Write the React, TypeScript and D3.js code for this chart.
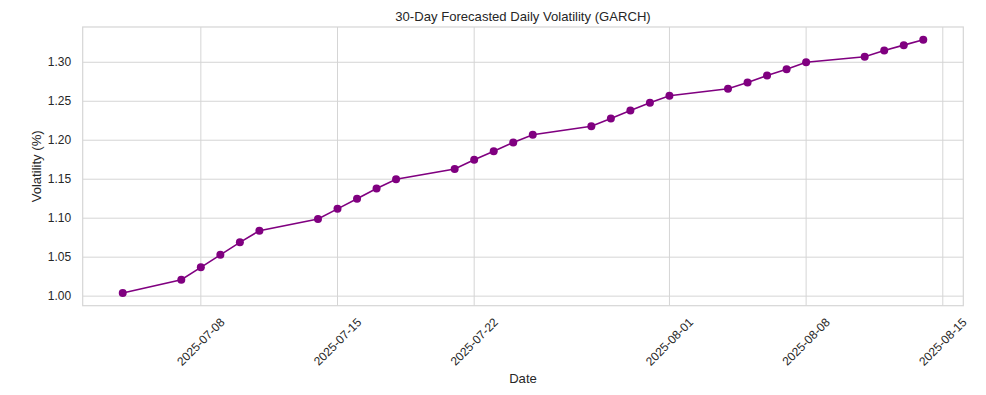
import React, { useEffect, useRef } from "react";
import * as d3 from "d3";

// forecast dates (business days) and GARCH daily volatility values
const dates = [
  "2025-07-04",
  "2025-07-07", "2025-07-08", "2025-07-09", "2025-07-10", "2025-07-11",
  "2025-07-14", "2025-07-15", "2025-07-16", "2025-07-17", "2025-07-18",
  "2025-07-21", "2025-07-22", "2025-07-23", "2025-07-24", "2025-07-25",
  "2025-07-28", "2025-07-29", "2025-07-30", "2025-07-31", "2025-08-01",
  "2025-08-04", "2025-08-05", "2025-08-06", "2025-08-07", "2025-08-08",
  "2025-08-11", "2025-08-12", "2025-08-13", "2025-08-14",
];
const volatility = [
  1.004,
  1.021, 1.037, 1.053, 1.069, 1.084,
  1.099, 1.112, 1.125, 1.138, 1.150,
  1.163, 1.175, 1.186, 1.197, 1.207,
  1.218, 1.228, 1.238, 1.248, 1.257,
  1.266, 1.274, 1.283, 1.291, 1.300,
  1.307, 1.315, 1.322, 1.329,
];
const xTickLabels = ["2025-07-08", "2025-07-15", "2025-07-22", "2025-08-01", "2025-08-08", "2025-08-15"];
const yTickValues = [1.0, 1.05, 1.1, 1.15, 1.2, 1.25, 1.3];

const W = 986;
const H = 395;

function VolChart() {
  const ref = useRef<SVGSVGElement | null>(null);

  useEffect(() => {
    const svg = d3.select(ref.current);
    svg.selectAll("*").remove();

    const margin = { top: 27, right: 22.7, bottom: 89.3, left: 82.7 };
    const width = W - margin.left - margin.right;
    const height = H - margin.top - margin.bottom;
    const font = "'Liberation Sans', Arial, sans-serif";
    const textColor = "#262626";
    const gridColor = "#d5d5d5";
    const tickSize = 12;
    const labelSize = 13.1;

    const parse = d3.utcParse("%Y-%m-%d");
    const data = dates.map((d, i) => ({ date: parse(d) as Date, v: volatility[i] }));

    // matplotlib-like 5% padding on both axes
    const [x0, x1] = d3.extent(data, d => d.date.getTime()) as [number, number];
    const xPad = (x1 - x0) * 0.05;
    const x = d3.scaleUtc()
      .domain([new Date(x0 - xPad), new Date(x1 + xPad)])
      .range([0, width]);

    const [y0, y1] = d3.extent(data, d => d.v) as [number, number];
    const yPad = (y1 - y0) * 0.05;
    const y = d3.scaleLinear()
      .domain([y0 - yPad, y1 + yPad])
      .range([height, 0]);

    const g = svg.append("g").attr("transform", `translate(${margin.left},${margin.top})`);

    // grid
    const xTicks = xTickLabels.map(s => parse(s) as Date);
    g.append("g")
      .selectAll("line")
      .data(xTicks)
      .enter()
      .append("line")
      .attr("x1", d => x(d))
      .attr("x2", d => x(d))
      .attr("y1", 0)
      .attr("y2", height)
      .attr("stroke", gridColor)
      .attr("stroke-width", 1);

    g.append("g")
      .selectAll("line")
      .data(yTickValues)
      .enter()
      .append("line")
      .attr("x1", 0)
      .attr("x2", width)
      .attr("y1", d => y(d))
      .attr("y2", d => y(d))
      .attr("stroke", gridColor)
      .attr("stroke-width", 1);

    // frame
    g.append("rect")
      .attr("width", width)
      .attr("height", height)
      .attr("fill", "none")
      .attr("stroke", gridColor)
      .attr("stroke-width", 1.2);

    // y tick labels
    g.append("g")
      .selectAll("text")
      .data(yTickValues)
      .enter()
      .append("text")
      .attr("x", -11.5)
      .attr("y", d => y(d))
      .attr("dy", "0.35em")
      .attr("text-anchor", "end")
      .attr("font-family", font)
      .attr("font-size", tickSize)
      .attr("fill", textColor)
      .text(d => d3.format(".2f")(d));

    // x tick labels, rotated 45 deg, centred on tick
    const labelCy = height + 36;
    g.append("g")
      .selectAll("text")
      .data(xTicks)
      .enter()
      .append("text")
      .attr("x", d => x(d))
      .attr("y", labelCy)
      .attr("dy", "0.35em")
      .attr("text-anchor", "middle")
      .attr("transform", d => `rotate(-45, ${x(d)}, ${labelCy})`)
      .attr("font-family", font)
      .attr("font-size", tickSize)
      .attr("fill", textColor)
      .text(d => d3.utcFormat("%Y-%m-%d")(d));

    // line + markers
    const line = d3.line<{ date: Date; v: number }>()
      .x(d => x(d.date))
      .y(d => y(d.v));

    g.append("path")
      .datum(data)
      .attr("d", line)
      .attr("fill", "none")
      .attr("stroke", "#800080")
      .attr("stroke-width", 1.6);

    g.append("g")
      .selectAll("circle")
      .data(data)
      .enter()
      .append("circle")
      .attr("cx", d => x(d.date))
      .attr("cy", d => y(d.v))
      .attr("r", 4)
      .attr("fill", "#800080");

    // title and axis labels
    svg.append("text")
      .attr("x", margin.left + width / 2)
      .attr("y", 16)
      .attr("dy", "0.35em")
      .attr("text-anchor", "middle")
      .attr("font-family", font)
      .attr("font-size", labelSize)
      .attr("fill", textColor)
      .text("30-Day Forecasted Daily Volatility (GARCH)");

    svg.append("text")
      .attr("x", margin.left + width / 2)
      .attr("y", 378)
      .attr("dy", "0.35em")
      .attr("text-anchor", "middle")
      .attr("font-family", font)
      .attr("font-size", labelSize)
      .attr("fill", textColor)
      .text("Date");

    svg.append("text")
      .attr("transform", `translate(36, ${margin.top + height / 2}) rotate(-90)`)
      .attr("dy", "0.35em")
      .attr("text-anchor", "middle")
      .attr("font-family", font)
      .attr("font-size", labelSize)
      .attr("fill", textColor)
      .text("Volatility (%)");
  }, []);

  return (
    <svg
      ref={ref}
      width={W}
      height={H}
      style={{ position: "absolute", left: 0, top: 0, background: "#fff" }}
    />
  );
}

export default function App() {
  return <VolChart />;
}
